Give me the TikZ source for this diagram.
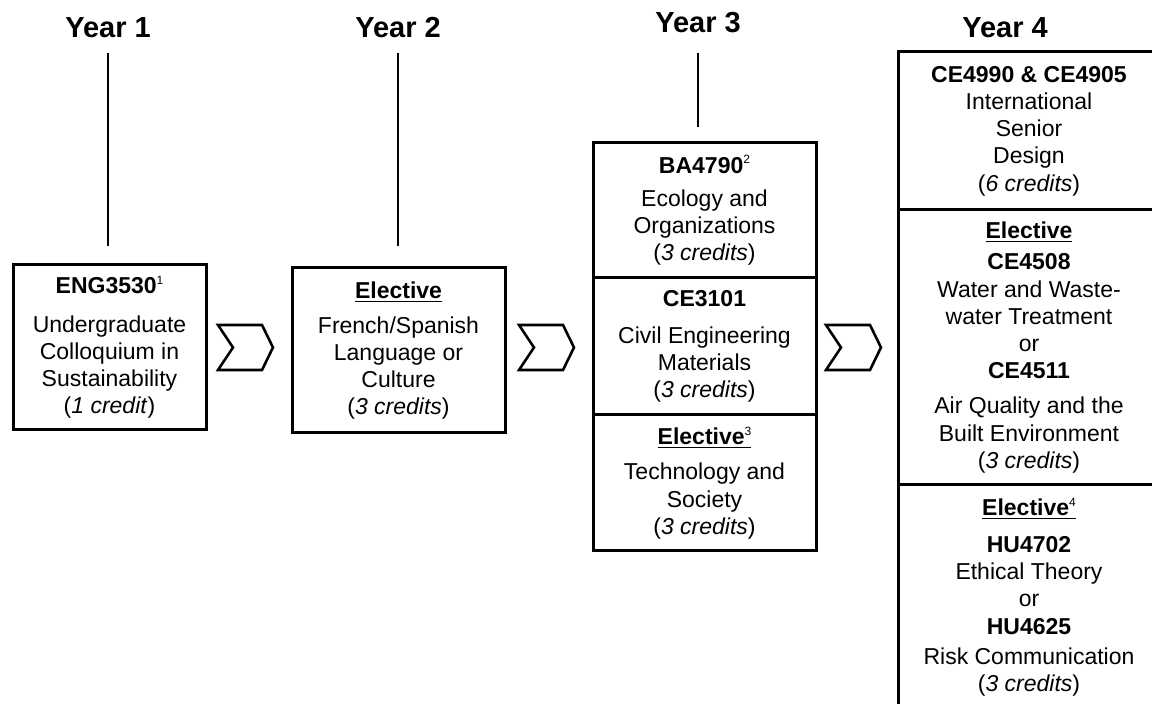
\documentclass[tikz,border=0pt]{standalone}
\usepackage{fontspec}
\setmainfont{Liberation Sans}
\newcommand\cred[1]{(\textit{#1})}
\newcommand\sups[1]{\raisebox{0.4em}{\fontsize{6}{6}\selectfont\mdseries #1}}
\begin{document}
\begin{tikzpicture}[x=0.5pt,y=-0.5pt,
  title/.style={font=\fontsize{14.5}{17}\selectfont\bfseries, inner sep=0pt, text depth=0pt, text height=10.4pt},
  box/.style={draw, line width=1.5pt, inner sep=0pt, outer sep=0pt, align=center,
              font=\fontsize{11.5}{13.6}\selectfont},
  vline/.style={line width=0.8pt},
  chevline/.style={line width=1.3pt, line join=miter},
  chevron/.pic={\draw[chevline] (0,0) -- (44,0) -- (55,22.5) -- (44,45) -- (0,45) -- (15,22.5) -- cycle;}
]
\useasboundingbox (0,0) rectangle (1152,704);
\clip (0,0) rectangle (1152,704);

% titles
\node[title] (t1) at (108,27) {Year 1};
\node[title] (t2) at (398,27) {Year 2};
\node[title] (t3) at (698,22) {Year 3};
\node[title] (t4) at (1005,27) {Year 4};

% Year 1
\node[box, minimum width=96.5pt, minimum height=82.5pt] (b1) at (109.5,347.5)
  {\textbf{ENG3530\sups{1}}\\[5.5pt] Undergraduate\\ Colloquium in\\ Sustainability\\ \cred{1 credit}};

% Year 2
\node[box, minimum width=106.5pt, minimum height=82.5pt] (b2) at (398.5,350.5)
  {\textbf{\underline{Elective}}\\[4pt] French/Spanish\\ Language or\\ Culture\\ \cred{3 credits}};

% Year 3
\node[box, minimum width=111.5pt, minimum height=67.5pt] (b3a) at (704.5,210.5)
  {\textbf{BA4790\sups{2}}\\[3pt] Ecology and\\ Organizations\\ \cred{3 credits}};
\node[box, minimum width=111.5pt, minimum height=68.5pt] (b3b) at (704.5,346.5)
  {\textbf{CE3101}\\[4.5pt] Civil Engineering\\ Materials\\ \cred{3 credits}};
\node[box, minimum width=111.5pt, minimum height=68pt] (b3c) at (704.5,483)
  {\textbf{\underline{Elective\sups{3}}}\\[4pt] Technology and\\ Society\\ \cred{3 credits}};

% Year 4
\node[box, minimum width=131pt, minimum height=79pt] (b4a) at (1029,131)
  {\textbf{CE4990 \& CE4905}\\ International\\ Senior\\ Design\\ \cred{6 credits}};
\node[box, minimum width=131pt, minimum height=137.5pt] (b4b) at (1029,347.5)
  {\textbf{\underline{Elective}}\\[2pt] \textbf{CE4508}\\ Water and Waste-\\ water Treatment\\ or\\
   \textbf{CE4511}\\[4pt] Air Quality and the\\ Built Environment\\ \cred{3 credits}};
\node[box, minimum width=131pt, minimum height=112pt] (b4c) at (1029,597)
  {\textbf{\underline{Elective\sups{4}}}\\[5pt] \textbf{HU4702}\\ Ethical Theory\\ or\\
   \textbf{HU4625}\\[1.5pt] Risk Communication\\ \cred{3 credits}};

% title lines
\draw[vline, shorten <=7.8pt, shorten >=9.5pt] (t1.south) -- (t1.south |- b1.north);
\draw[vline, shorten <=7.8pt, shorten >=11pt] (t2.south) -- (t2.south |- b2.north);
\draw[vline, shorten <=10.3pt, shorten >=8pt] (t3.south) -- (t3.south |- b3a.north);

% chevrons
\pic at (218,325) {chevron};
\pic at (519,325) {chevron};
\pic at (826,325) {chevron};
\end{tikzpicture}
\end{document}
